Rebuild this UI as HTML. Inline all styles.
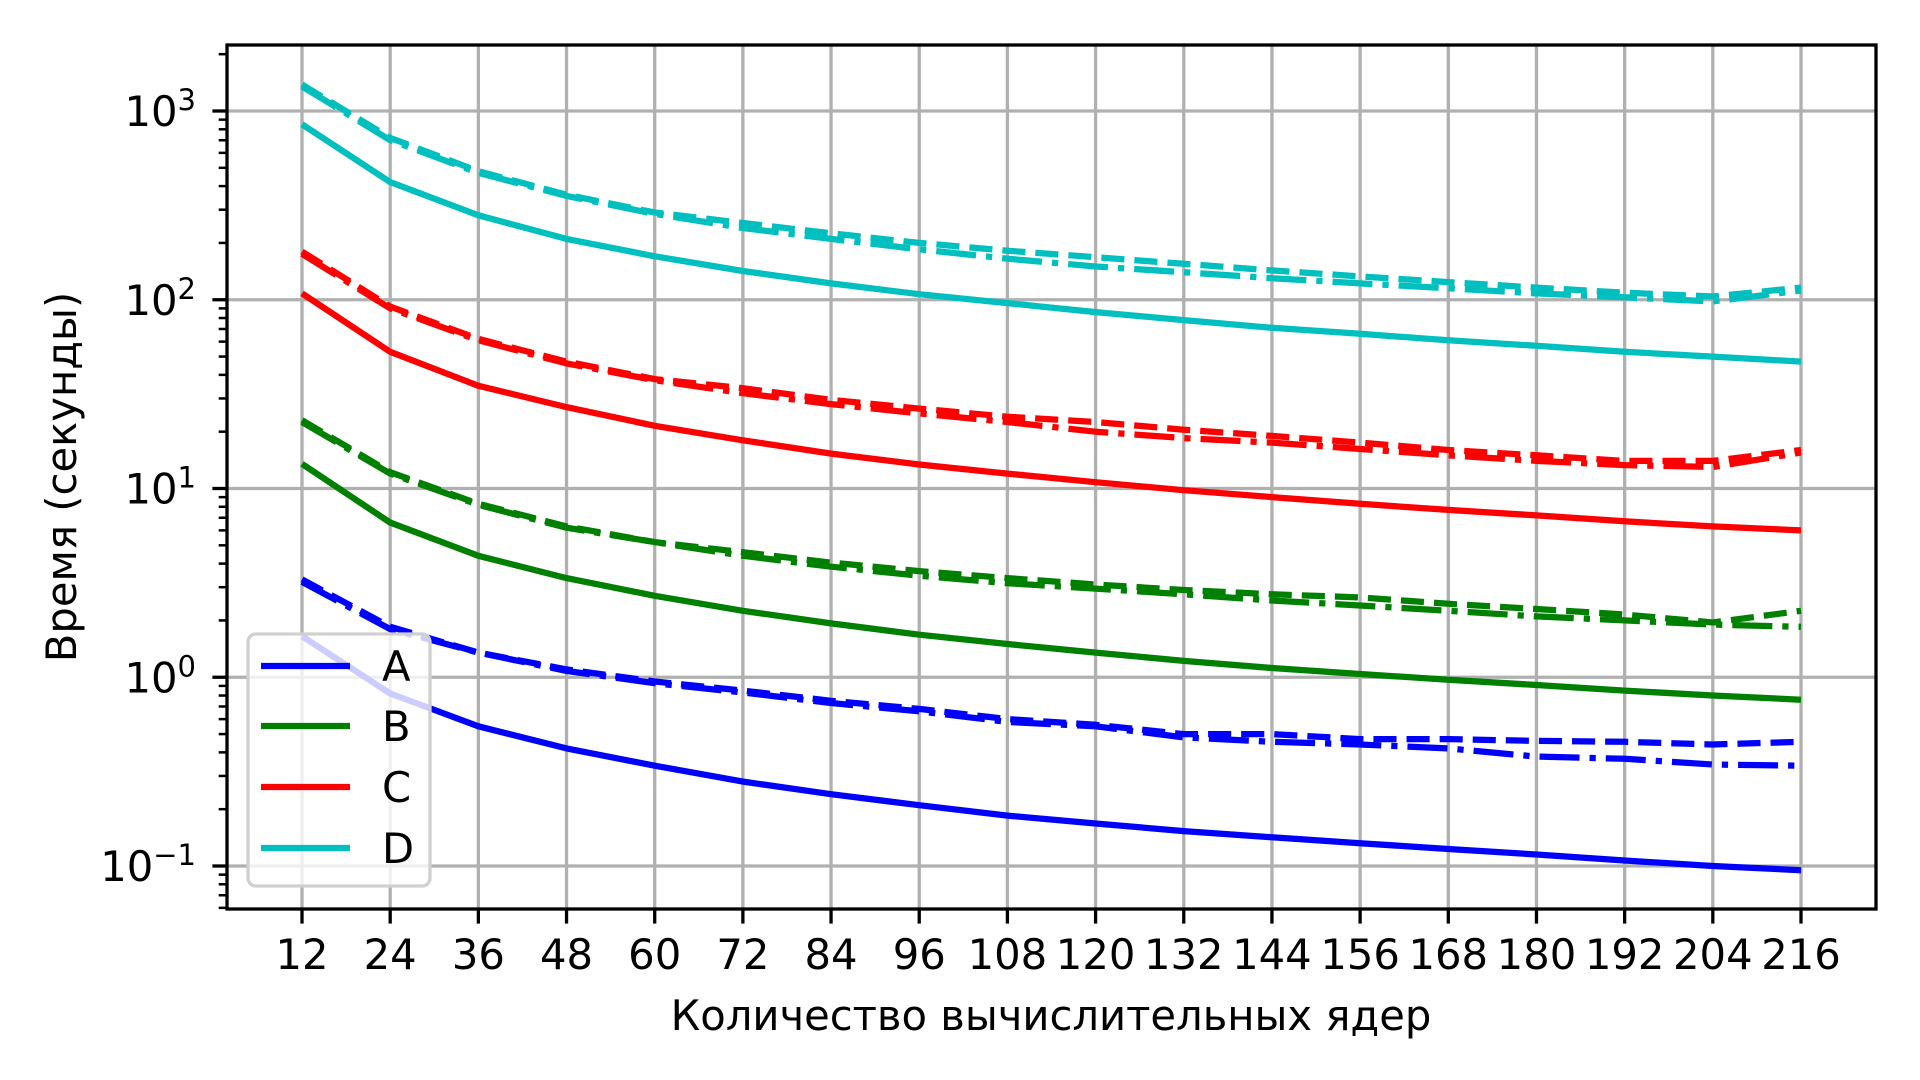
<!DOCTYPE html>
<html><head><meta charset="utf-8">
<style>
html,body{margin:0;padding:0;background:#fff;}
svg{display:block;font-family:"DejaVu Sans","Liberation Sans",sans-serif;}
</style></head>
<body>
<svg id="chart" width="1920" height="1080" viewBox="0 0 1920 1080" xmlns="http://www.w3.org/2000/svg">
<rect x="0" y="0" width="1920" height="1080" fill="#fff"/>
<g id="grid"></g>
<g id="series"></g>
<g id="axes"></g>
<g id="legend"></g>
</svg>
<script>
const cores = [12,24,36,48,60,72,84,96,108,120,132,144,156,168,180,192,204,216];
const yTickExps = [3,2,1,0,-1];
const seriesNames = ['A','B','C','D'];
const seriesColors = ['#0000ff','#008000','#ff0000','#00bfbf'];
const aSolid = [1.65,0.82,0.55,0.42,0.34,0.28,0.24,0.21,0.185,0.168,0.153,0.142,0.132,0.123,0.115,0.107,0.1,0.095];
const aDashed = [3.3,1.85,1.35,1.1,0.95,0.85,0.75,0.68,0.6,0.56,0.5,0.5,0.47,0.47,0.46,0.455,0.44,0.455];
const aDashdot = [3.2,1.8,1.35,1.08,0.93,0.83,0.73,0.66,0.58,0.55,0.48,0.455,0.44,0.42,0.38,0.37,0.345,0.34];
const bSolid = [13.5,6.6,4.4,3.35,2.7,2.25,1.93,1.68,1.5,1.35,1.22,1.12,1.04,0.97,0.91,0.85,0.8,0.76];
const bDashed = [23,12.2,8.3,6.3,5.2,4.6,4.05,3.65,3.35,3.1,2.9,2.75,2.65,2.45,2.3,2.15,1.95,2.25];
const bDashdot = [22.5,12,8.2,6.2,5.2,4.4,3.85,3.45,3.15,2.95,2.75,2.55,2.4,2.25,2.1,2.0,1.9,1.85];
const cSolid = [108,53,35,27,21.5,18,15.3,13.4,12,10.8,9.8,9,8.3,7.7,7.2,6.7,6.3,6.0];
const cDashed = [180,92,62,47,38,34,29.5,26.5,24,22.5,20.5,19,17.5,16,15,14,14,16];
const cDashdot = [175,90,61,46,37.5,32,28,25,22.5,20,18.5,17.5,16.2,15,14,13.3,13,15.5];
const dSolid = [850,420,280,210,170,142,122,107,96,86,78,71,66,61,57,53,50,47];
const dDashed = [1380,720,480,360,290,255,225,200,182,168,155,143,133,124,116,109,104,116];
const dDashdot = [1350,700,470,355,285,240,210,185,165,150,140,130,122,115,108,103,98,112];

const NS='http://www.w3.org/2000/svg';
const L=227,R=1876,T=45,B=909;
function xs(v){return 302+(v-12)*(1801-302)/(216-12);}
function ys(v){return 111+(3-Math.log10(v))*188.75;}
function mk(tag,attrs,parent){const e=document.createElementNS(NS,tag);for(const k in attrs)e.setAttribute(k,attrs[k]);parent.appendChild(e);return e;}
const grid=document.getElementById('grid'),axes=document.getElementById('axes'),ser=document.getElementById('series'),leg=document.getElementById('legend');

// grid
cores.forEach(c=>{const l=mk('line',{x1:xs(c),x2:xs(c),y1:T,y2:B,stroke:'#b0b0b0','stroke-width':3.3},grid);

});
yTickExps.forEach(e=>{const l=mk('line',{x1:L,x2:R,y1:ys(Math.pow(10,e)),y2:ys(Math.pow(10,e)),stroke:'#b0b0b0','stroke-width':3.3},grid);

});

// series
const groups=[[aSolid,aDashed,aDashdot],[bSolid,bDashed,bDashdot],[cSolid,cDashed,cDashdot],[dSolid,dDashed,dDashdot]];
const dashes=['none','23.1,10','40,10,6.25,10'];
const styleNames=['solid','dashed','dashdot'];
groups.forEach((g,i)=>{g.forEach((arr,j)=>{
 const pts=arr.map((v,k)=>xs(cores[k]).toFixed(1)+','+ys(v).toFixed(1)).join(' ');
 const p=mk('polyline',{points:pts,fill:'none',stroke:seriesColors[i],'stroke-width':6.25,'stroke-dasharray':dashes[j],'stroke-linejoin':'round','stroke-linecap':'butt'},ser);
 
 
});});

// axes frame
const fr=mk('rect',{x:L,y:T,width:R-L,height:B-T,fill:'none',stroke:'#000','stroke-width':3.3},axes);


cores.forEach(c=>{
 mk('line',{x1:xs(c),x2:xs(c),y1:B,y2:B+14.6,stroke:'#000','stroke-width':3.3},axes);
 const t=mk('text',{x:xs(c),y:969,'font-size':41.7,'text-anchor':'middle',fill:'#000'},axes);
 t.textContent=c;
 
 
});
for(let e=-2;e<=3;e++){for(let m=2;m<=9;m++){const v=m*Math.pow(10,e);const y=ys(v);if(y<T||y>B)continue;
 mk('line',{x1:L-8.3,x2:L,y1:y,y2:y,stroke:'#000','stroke-width':2.5},axes);}}
yTickExps.forEach(e=>{const y=ys(Math.pow(10,e));
 mk('line',{x1:L-14.6,x2:L,y1:y,y2:y,stroke:'#000','stroke-width':3.3},axes);
 const t=mk('text',{x:196,y:y+15,'font-size':41.7,'text-anchor':'end',fill:'#000'},axes);
 
 
 const s1=mk('tspan',{},t);s1.textContent='10';
 const s2=mk('tspan',{dy:-16,'font-size':29},t);s2.textContent=(e<0?'\u2212':'')+Math.abs(e);
});
const xl=mk('text',{x:1051,y:1030,'font-size':41.7,'text-anchor':'middle',fill:'#000'},axes);
xl.textContent='Количество вычислительных ядер';


const yl=mk('text',{x:0,y:0,'font-size':41.7,'text-anchor':'middle',fill:'#000',transform:'translate(76,477) rotate(-90)'},axes);
yl.textContent='Время (секунды)';



// legend
const lb=mk('rect',{x:248,y:634,width:182,height:252,rx:8,fill:'rgba(255,255,255,0.8)',stroke:'#d0d0d0','stroke-width':3.3},leg);


const legY=[666,726,787,848];
seriesNames.forEach((n,i)=>{
 const ln=mk('line',{x1:261,x2:350,y1:legY[i],y2:legY[i],stroke:seriesColors[i],'stroke-width':6.25},leg);
 
 
 const t=mk('text',{x:382,y:legY[i]+15,'font-size':41.7,fill:'#000'},leg);
 t.textContent=n;
 
 
});
</script>
</body></html>
